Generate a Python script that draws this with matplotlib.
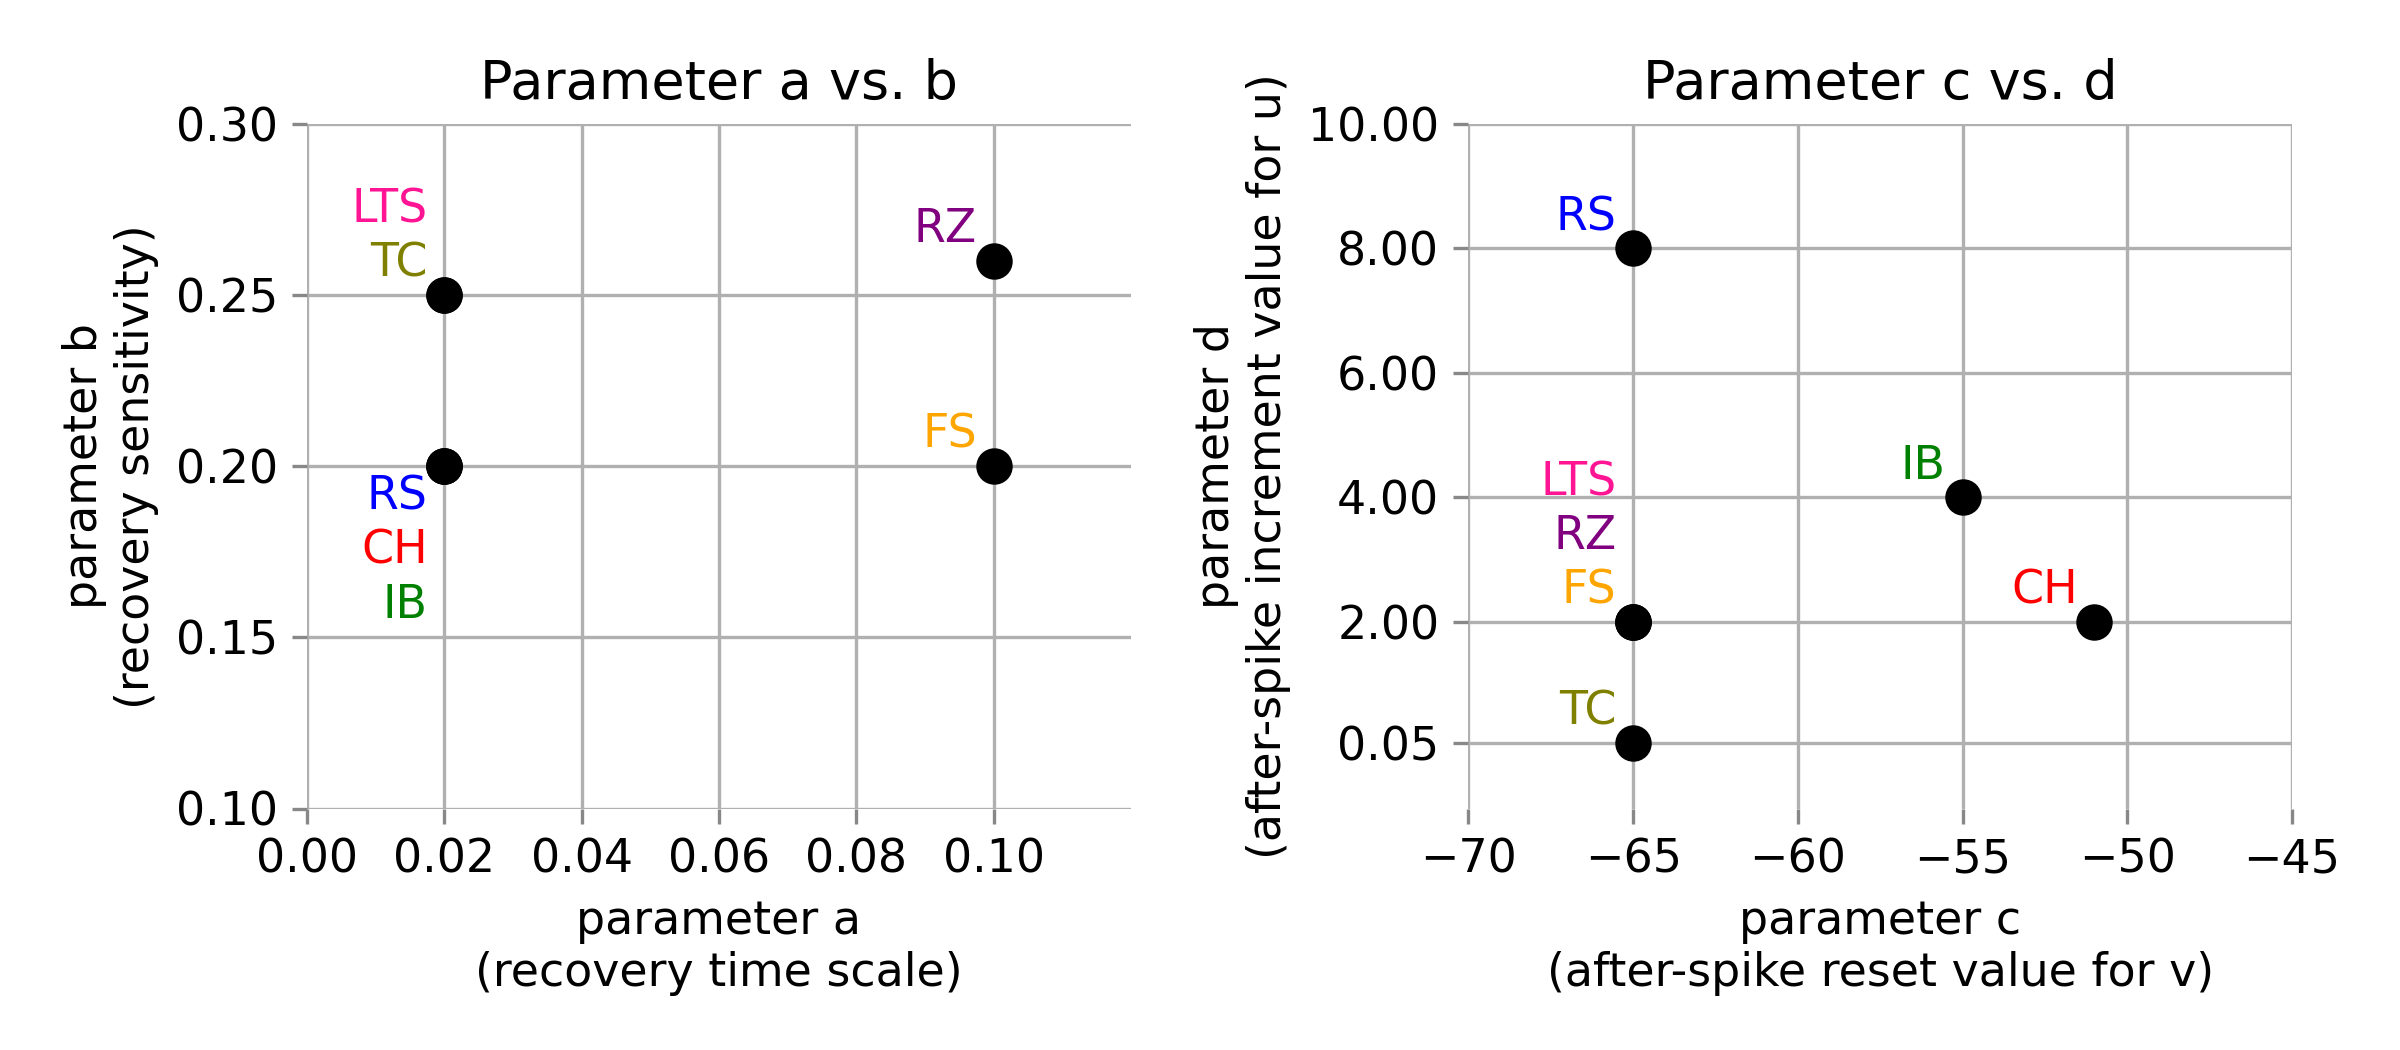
import matplotlib
matplotlib.use("Agg")
import matplotlib.pyplot as plt
from collections import defaultdict

names = ["RS", "IB", "CH", "FS", "TC", "RZ", "LTS"]
a = [0.02, 0.02, 0.02, 0.10, 0.02, 0.10, 0.02]
b = [0.20, 0.20, 0.20, 0.20, 0.25, 0.26, 0.25]
c = [-65, -55, -51, -65, -65, -65, -65]
d = [8, 4, 2, 2, 0.05, 2, 2]
colors = {"RS": "blue", "IB": "green", "CH": "red", "FS": "orange",
          "TC": "olive", "RZ": "purple", "LTS": "deeppink"}
below_order = ["RS", "CH", "IB"]

fig, axes = plt.subplots(1, 2, figsize=(8, 3.5), dpi=300)

def panel(ax, xs, ys, order_above, title, xlabel, ylabel):
    ax.scatter(xs, ys, s=60, color="black", zorder=3, clip_on=False)
    groups = defaultdict(list)
    for n, x, y in zip(names, xs, ys):
        groups[(x, y)].append(n)
    for (x, y), ns in groups.items():
        above = [n for n in ns if n in order_above]
        below = sorted([n for n in ns if n not in order_above], key=below_order.index)
        for i, n in enumerate(sorted(above, key=order_above.index)):
            ax.annotate(n, (x, y), xytext=(-4, 2 + 13 * i), textcoords="offset points",
                        ha="right", va="bottom", color=colors[n], fontsize=11)
        for i, n in enumerate(below):
            ax.annotate(n, (x, y), xytext=(-4, -2 - 13 * i), textcoords="offset points",
                        ha="right", va="top", color=colors[n], fontsize=11)
    ax.set_title(title, fontsize=13)
    ax.set_xlabel(xlabel, fontsize=11)
    ax.set_ylabel(ylabel, fontsize=11)
    ax.grid(True, color="#b0b0b0", linewidth=0.8)
    ax.set_axisbelow(True)
    for s in ["top", "right", "bottom", "left"]:
        ax.spines[s].set_visible(False)
    ax.tick_params(colors="#888888", labelcolor="black", labelsize=11)

panel(axes[0], a, b, ["TC", "LTS", "RZ", "FS"], "Parameter a vs. b",
      "parameter a\n(recovery time scale)", "parameter b\n(recovery sensitivity)")
axes[0].set_xlim(0, 0.12)
axes[0].set_ylim(0.1, 0.3)
axes[0].set_xticks([0.0, 0.02, 0.04, 0.06, 0.08, 0.10])
axes[0].set_xticklabels(["0.00", "0.02", "0.04", "0.06", "0.08", "0.10"])
axes[0].set_yticks([0.10, 0.15, 0.20, 0.25, 0.30])
axes[0].set_yticklabels(["0.10", "0.15", "0.20", "0.25", "0.30"])

panel(axes[1], c, d, ["FS", "RZ", "LTS", "RS", "IB", "CH", "TC"], "Parameter c vs. d",
      "parameter c\n(after-spike reset value for v)",
      "parameter d\n(after-spike increment value for u)")
axes[1].set_xlim(-70, -45)
axes[1].set_ylim(-1.0, 10)
axes[1].set_xticks([-70, -65, -60, -55, -50, -45])
axes[1].set_yticks([0.05, 2, 4, 6, 8, 10])
axes[1].set_yticklabels(["0.05", "2.00", "4.00", "6.00", "8.00", "10.00"])

plt.subplots_adjust(left=0.128, right=0.955, top=0.882, bottom=0.23, wspace=0.41)
fig.savefig("out.png", dpi=300)
